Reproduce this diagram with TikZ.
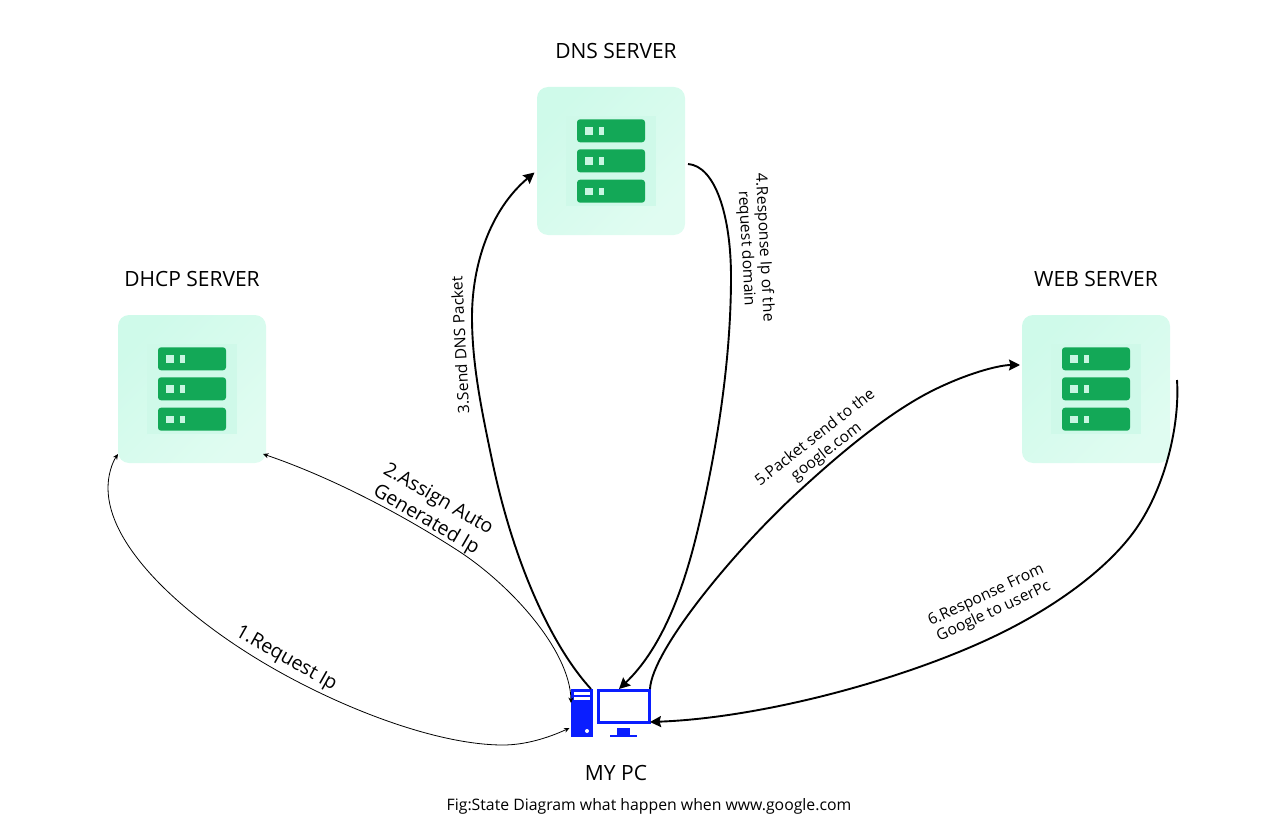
\documentclass[tikz,border=0pt]{standalone}
\usepackage{fontspec}
\setmainfont{Open Sans}
\usetikzlibrary{arrows.meta}
\definecolor{cardA}{HTML}{CFFAEA}
\definecolor{cardB}{HTML}{E0FCF1}
\definecolor{cardIn}{HTML}{CFF9E9}
\definecolor{barG}{HTML}{13A857}
\definecolor{chip}{HTML}{C8F5E2}
\definecolor{pcB}{HTML}{0A1EFF}
\newcommand{\serverpic}[3]{%
  \node[cardbox] (#3) at (#1+74,#2+74) {};
  \fill[cardIn] (#1+29,#2+29) rectangle (#1+119,#2+119);
  \foreach \yy in {32.3,62.3,92.7}{
    \fill[barG,rounded corners=3pt] (#1+40,#2+\yy) rectangle (#1+108,#2+\yy+23);
    \fill[chip] (#1+48,#2+\yy+8) rectangle (#1+55.5,#2+\yy+15.4);
    \fill[chip] (#1+62.3,#2+\yy+8) rectangle (#1+66.7,#2+\yy+15.4);
  }}
\tikzset{
  cardbox/.style={minimum width=148pt,minimum height=148pt,rounded corners=11pt,inner sep=0pt,top color=cardA,bottom color=cardB,shading angle=45},
  thinlink/.style={line width=0.8pt,black,{Stealth[length=5.5pt,width=5pt]}-{Stealth[length=5.5pt,width=5pt]}},
  thicklink/.style={line width=1.9pt,black,-{Stealth[length=11pt,width=11pt,inset=1.5pt]}},
  title/.style={font=\fontsize{21}{24}\selectfont,inner sep=0pt},
  biglabel/.style={font=\fontsize{19.5}{24}\selectfont,align=center,inner sep=0pt},
  smalllabel/.style={font=\fontsize{15.6}{18}\selectfont,align=center,inner sep=0pt}
}
\begin{document}
\begin{tikzpicture}[x=1pt,y=-1pt]
\useasboundingbox (0,0) rectangle (1280,832);
\serverpic{537}{87}{dns}
\serverpic{118}{315}{dhcp}
\serverpic{1022}{315}{web}
\node[title] (tdns) at (616,51) {DNS SERVER};
\node[title] (tdhcp) at (192,279) {DHCP SERVER};
\node[title] (tweb) at (1096,279) {WEB SERVER};
\node[title] (tpc) at (616,773) {MY PC};
\node[font=\fontsize{15.8}{18}\selectfont,inner sep=0pt] (cap) at (649,806) {Fig:State Diagram what happen when www.google.com};
% computer
\node[fill=pcB,minimum width=22.5pt,minimum height=48.5pt,inner sep=0pt] (tower) at (582,713) {};
\fill[white] (574,691.7) rectangle (590,694.7);
\fill[white] (574,697) rectangle (590,700);
\fill[white] (587,731) circle (2pt);
\node[draw=pcB,line width=3pt,fill=white,minimum width=51pt,minimum height=32.5pt,inner sep=0pt] (mon) at (623.7,706.3) {};
\fill[pcB] (617.3,727.7) rectangle (630.3,735);
\fill[pcB] (610,734.7) rectangle (637.3,737.3);
% endpoints
\coordinate (a1) at (569.5,728);
\coordinate (b1) at (118,454);
\coordinate (a2) at (263,454);
\coordinate (b2) at (571,703);
\coordinate (a3) at (591,689);
\coordinate (b3) at (534.5,172.5);
\coordinate (a4) at (688,164);
\coordinate (b4) at (619,689);
\coordinate (a5) at (650,689);
\coordinate (b5) at (1020,365);
\coordinate (a6) at (1177,380);
\coordinate (b6) at (650,722);
% connectors
\draw[thinlink] (a1) .. controls (548,738) and (525,745) .. (503,745) .. controls (430,745) and (320,700) .. (243,650) .. controls (178,608) and (108,545) .. (108,488) .. controls (108,475) and (112,463) .. (b1);
\draw[thinlink] (a2) .. controls (325,475) and (395,510) .. (457,550) .. controls (510,584) and (570,650) .. (b2);
\draw[thicklink] (a3) .. controls (555,650) and (515,570) .. (492,460) .. controls (482,412) and (472,365) .. (472,317) .. controls (472,265) and (490,210) .. (b3);
\draw[thicklink] (a4) .. controls (715,166) and (731,215) .. (731,277) .. controls (731,360) and (717,450) .. (697,533) .. controls (682,595) and (660,650) .. (b4);
\draw[thicklink] (a5) .. controls (652,650) and (735,550) .. (797,493) .. controls (835,458) and (890,410) .. (940,387) .. controls (972,372) and (1000,365) .. (b5);
\draw[thicklink] (a6) .. controls (1180,425) and (1165,490) .. (1133,533) .. controls (1103,573) and (1050,610) .. (993,637) .. controls (900,681) and (760,718) .. (b6);
% labels
\node[biglabel,rotate=-29.5] (l1) at (286,659) {1.Request Ip};
\node[biglabel,rotate=-30] (l2) at (432,510) {2.Assign Auto\\Generated Ip};
\node[smalllabel,rotate=93] (l3) at (460,345) {3.Send DNS Packet};
\node[smalllabel,rotate=-87] (l4) at (755,248) {4.Response Ip of the\\request domain};
\node[smalllabel,rotate=38] (l5) at (821,445) {5.Packet send to the\\google.com};
\node[smalllabel,rotate=25] (l6) at (990,604) {6.Response From\\Google to userPc};
\end{tikzpicture}
\end{document}
